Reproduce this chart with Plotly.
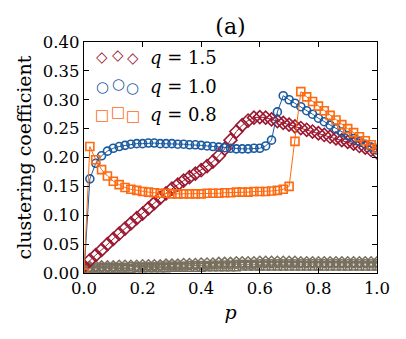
import plotly.graph_objects as go

p = [0.00, 0.02, 0.04, 0.06, 0.08, 0.10, 0.12, 0.14, 0.16, 0.18,
     0.20, 0.22, 0.24, 0.26, 0.28, 0.30, 0.32, 0.34, 0.36, 0.38,
     0.40, 0.42, 0.44, 0.46, 0.48, 0.50, 0.52, 0.54, 0.56, 0.58,
     0.60, 0.62, 0.64, 0.66, 0.68, 0.70, 0.72, 0.74, 0.76, 0.78,
     0.80, 0.82, 0.84, 0.86, 0.88, 0.90, 0.92, 0.94, 0.96, 0.98, 1.00]

q15 = [0.012, 0.022, 0.031, 0.040, 0.050, 0.059, 0.068, 0.077, 0.086, 0.095,
       0.103, 0.112, 0.121, 0.130, 0.138, 0.146, 0.153, 0.160, 0.166, 0.172,
       0.178, 0.185, 0.193, 0.203, 0.215, 0.230, 0.245, 0.256, 0.264, 0.269,
       0.270, 0.269, 0.266, 0.263, 0.260, 0.257, 0.254, 0.251, 0.248, 0.245,
       0.242, 0.239, 0.236, 0.233, 0.230, 0.227, 0.224, 0.220, 0.217, 0.213, 0.209]

q10 = [0.000, 0.163, 0.190, 0.203, 0.211, 0.216, 0.219, 0.221, 0.223, 0.224,
       0.224, 0.225, 0.225, 0.224, 0.224, 0.224, 0.223, 0.223, 0.222, 0.222,
       0.221, 0.220, 0.219, 0.218, 0.217, 0.216, 0.215, 0.215, 0.215, 0.216,
       0.216, 0.220, 0.230, 0.279, 0.307, 0.300, 0.294, 0.288, 0.281, 0.275,
       0.268, 0.262, 0.256, 0.250, 0.244, 0.238, 0.233, 0.228, 0.223, 0.218, 0.213]

q08 = [0.000, 0.219, 0.196, 0.179, 0.168, 0.159, 0.153, 0.148, 0.145, 0.143,
       0.141, 0.140, 0.139, 0.138, 0.138, 0.137, 0.137, 0.137, 0.137, 0.137,
       0.137, 0.138, 0.138, 0.138, 0.139, 0.139, 0.140, 0.140, 0.140, 0.141,
       0.141, 0.141, 0.142, 0.143, 0.145, 0.150, 0.228, 0.314, 0.305, 0.297,
       0.289, 0.281, 0.273, 0.265, 0.257, 0.250, 0.243, 0.236, 0.229, 0.222, 0.216]

# random-graph baselines (grey)
base15 = [0.011, 0.011, 0.012, 0.012, 0.012, 0.012, 0.013, 0.013, 0.013, 0.013,
          0.014, 0.014, 0.014, 0.014, 0.015, 0.015, 0.015, 0.016, 0.016, 0.016,
          0.017, 0.017, 0.017, 0.018, 0.018, 0.018, 0.019, 0.019, 0.019, 0.019,
          0.020, 0.020, 0.020, 0.020, 0.020, 0.020, 0.020, 0.019, 0.019, 0.019,
          0.019, 0.019, 0.019, 0.019, 0.019, 0.019, 0.019, 0.019, 0.019, 0.019, 0.019]
base10 = [0.009, 0.009, 0.009, 0.010, 0.010, 0.010, 0.010, 0.010, 0.011, 0.011,
          0.011, 0.011, 0.011, 0.012, 0.012, 0.012, 0.012, 0.012, 0.013, 0.013,
          0.013, 0.013, 0.014, 0.014, 0.014, 0.014, 0.015, 0.015, 0.015, 0.015,
          0.016, 0.016, 0.016, 0.016, 0.016, 0.016, 0.016, 0.016, 0.016, 0.016,
          0.016, 0.016, 0.016, 0.016, 0.016, 0.016, 0.016, 0.016, 0.016, 0.016, 0.016]
base08 = [0.007, 0.007, 0.007, 0.008, 0.008, 0.008, 0.008, 0.008, 0.008, 0.009,
          0.009, 0.009, 0.009, 0.009, 0.009, 0.010, 0.010, 0.010, 0.010, 0.010,
          0.010, 0.011, 0.011, 0.011, 0.011, 0.011, 0.011, 0.012, 0.012, 0.012,
          0.012, 0.012, 0.012, 0.012, 0.012, 0.012, 0.012, 0.012, 0.012, 0.012,
          0.012, 0.012, 0.012, 0.012, 0.012, 0.012, 0.012, 0.012, 0.012, 0.012, 0.012]

RED, BLUE, ORANGE, GREY = "#9b1730", "#1a5aa0", "#ff6a10", "#786f5e"
font = "DejaVu Serif"

fig = go.Figure()
for ys, sym in [(base15, "diamond-open"), (base10, "circle-open"), (base08, "square-open")]:
    fig.add_trace(go.Scatter(x=p, y=ys, mode="lines+markers", showlegend=False,
                             line=dict(color=GREY, width=1),
                             marker=dict(symbol=sym, size=8, color=GREY, line=dict(width=1.5))))
for ys, sym, col, sz in [(q15, "diamond-open", RED, 10), (q10, "circle-open", BLUE, 8),
                         (q08, "square-open", ORANGE, 8)]:
    fig.add_trace(go.Scatter(x=p, y=ys, mode="lines+markers", showlegend=False,
                             line=dict(color=col, width=1),
                             marker=dict(symbol=sym, size=sz, color=col, line=dict(width=1.6))))

# legend drawn as text (three markers per entry, middle one slightly raised)
legend = [("◇", RED, "<i>q</i> = 1.5", 0.935),
          ("○", BLUE, "<i>q</i> = 1.0", 0.807),
          ("□", ORANGE, "<i>q</i> = 0.8", 0.686)]
for sym, col, lab, yy in legend:
    for xx, dy in [(0.062, 0), (0.117, 2.5), (0.167, -1)]:
        fig.add_annotation(xref="paper", yref="paper", x=xx, y=yy, yshift=dy, text=sym,
                           showarrow=False, xanchor="center", yanchor="middle",
                           font=dict(family="DejaVu Sans", size=15, color=col))
    fig.add_annotation(xref="paper", yref="paper", x=0.341, y=yy, text=lab, showarrow=False,
                       xanchor="center", yanchor="middle",
                       font=dict(family=font, size=18, color="black"))

axis = dict(showline=True, linecolor="black", linewidth=1.2, mirror="ticks",
            ticks="inside", ticklen=5, tickcolor="black", showgrid=False, zeroline=False,
            tickfont=dict(family=font, size=16.5, color="black"))
fig.update_xaxes(range=[0, 1], dtick=0.2, tickformat=".1f",
                 title=dict(text="<i>p</i>", font=dict(family=font, size=19, color="black"),
                            standoff=8), **axis)
fig.update_yaxes(range=[0, 0.40], dtick=0.05, tickformat=".2f",
                 title=dict(text="clustering coefficient",
                            font=dict(family=font, size=19, color="black"), standoff=6),
                 **axis)
# page body has an 8px margin, so the figure is sized/offset to compensate
fig.update_layout(width=398, height=331, margin=dict(l=76, r=29, t=34, b=66),
                  plot_bgcolor="white", paper_bgcolor="white",
                  title=dict(text="(a)", x=0.5, xref="paper", xanchor="center",
                             y=0.945, yanchor="middle",
                             font=dict(family=font, size=22, color="black")))
fig.write_html("out.html")
